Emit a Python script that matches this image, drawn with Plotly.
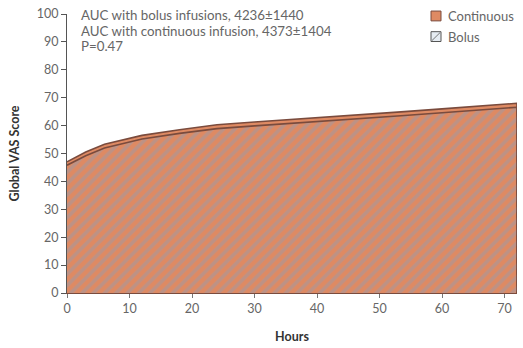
import plotly.graph_objects as go

hours = [0, 3, 6, 9, 12, 18, 24, 30, 36, 42, 48, 54, 60, 66, 72]
continuous = [47.0, 50.5, 53.3, 55.0, 56.5, 58.5, 60.3, 61.3, 62.2, 63.0, 64.0, 65.0, 66.0, 67.0, 68.0]
bolus = [45.8, 49.2, 52.0, 53.7, 55.2, 57.2, 58.9, 59.9, 60.8, 61.6, 62.6, 63.6, 64.6, 65.5, 66.6]

x_ticks = [0, 10, 20, 30, 40, 50, 60, 70]
y_ticks = [0, 10, 20, 30, 40, 50, 60, 70, 80, 90, 100]
notes = ["AUC with bolus infusions, 4236±1440",
         "AUC with continuous infusion, 4373±1404",
         "P=0.47"]
legend_names = ["Continuous", "Bolus"]

FONT = "Lato"
GREY = "#666666"
ORANGE = "#de8a63"
EDGE = "#7a4b3d"

W, H = 523, 348
L, R, T, B = 67, 6, 10, 54
pw, ph = W - L - R, H - T - B

def px(xp):
    return (xp - L) / pw

def py(yp):
    return 1 - (yp - T) / ph

xs = hours + [hours[-1]]
fig = go.Figure()
fig.add_trace(go.Scatter(
    x=xs, y=continuous + [0], mode="lines", name=legend_names[0],
    fill="tozeroy", fillcolor=ORANGE,
    line=dict(color=EDGE, width=1.6), hoverinfo="skip"))
fig.add_trace(go.Scatter(
    x=xs, y=bolus + [0], mode="lines", name=legend_names[1],
    fill="tozeroy", fillcolor="rgba(0,0,0,0)",
    fillpattern=dict(shape="/", fgcolor="#9c9aa8", bgcolor="rgba(0,0,0,0)",
                     size=8, solidity=0.45),
    line=dict(color=EDGE, width=1.6), hoverinfo="skip"))

for i, t in enumerate(notes):
    fig.add_annotation(x=px(79), y=py(11 + 16 * i), xref="paper", yref="paper",
                       xanchor="left", yanchor="middle",
                       text=t, showarrow=False, align="left",
                       font=dict(family=FONT, size=13.3, color=GREY))

# manual legend with square swatches
sw = [(431, 7), (431, 28)]
for i, name in enumerate(legend_names):
    x0, y0 = sw[i]
    if i == 0:
        fig.add_shape(type="rect", xref="paper", yref="paper",
                      x0=px(x0), x1=px(x0 + 10), y0=py(y0 + 10), y1=py(y0),
                      fillcolor=ORANGE, line=dict(color=EDGE, width=1))
    else:
        fig.add_shape(type="rect", xref="paper", yref="paper",
                      x0=px(x0), x1=px(x0 + 10), y0=py(y0 + 10), y1=py(y0),
                      fillcolor="#e6ecf2", line=dict(color="#555", width=1))
        fig.add_shape(type="line", xref="paper", yref="paper",
                      x0=px(x0 + 1), x1=px(x0 + 9), y0=py(y0 + 9), y1=py(y0 + 1),
                      line=dict(color="#777", width=1))
    fig.add_annotation(x=px(x0 + 15), y=py(y0 + 5), xref="paper", yref="paper",
                       xanchor="left", yanchor="middle", text=name, showarrow=False,
                       font=dict(family=FONT, size=13, color=GREY))

fig.update_layout(
    width=W, height=H,
    margin=dict(l=L, r=R, t=T, b=B),
    paper_bgcolor="white", plot_bgcolor="white",
    showlegend=False,
    xaxis=dict(range=[0, 72], tickvals=x_ticks, ticks="outside", ticklen=4,
               tickcolor="#777", showgrid=False, zeroline=False,
               showline=True, linecolor=EDGE, linewidth=1,
               tickfont=dict(family=FONT, size=12.5, color=GREY),
               title=dict(text="<b>Hours</b>", standoff=17,
                          font=dict(family=FONT, size=12.5, color="#333"))),
    yaxis=dict(range=[0, 100], tickvals=y_ticks, ticks="outside", ticklen=5,
               tickcolor="#555", showgrid=False, zeroline=False,
               showline=True, linecolor="#555", linewidth=1.2,
               tickfont=dict(family=FONT, size=12.5, color=GREY),
               title=dict(text="<b>Global VAS Score</b>", standoff=14,
                          font=dict(family=FONT, size=12.5, color="#333"))),
)

fig.write_html("out.html")
